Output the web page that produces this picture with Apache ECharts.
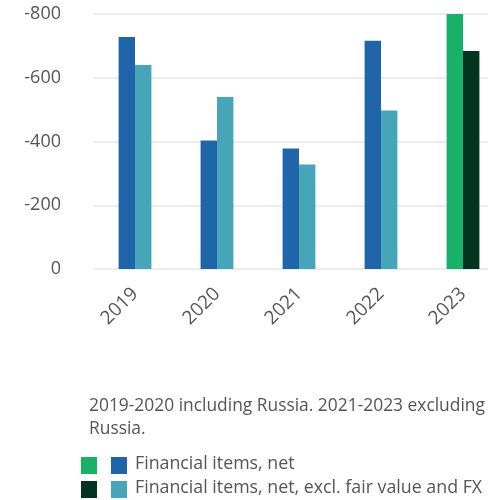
<!DOCTYPE html>
<html>
<head>
<meta charset="utf-8">
<script src="https://cdn.jsdelivr.net/npm/echarts@6/dist/echarts.min.js"></script>
<style>
  html, body { margin: 0; padding: 0; background: #fff; }
  #chart { width: 488px; height: 500px; }
</style>
</head>
<body>
<div id="chart"></div>
<script>
// Financial items, MSEK (shown as negatives on an inverted axis)
const years = ['2019', '2020', '2021', '2022', '2023'];
const financialNet = [-728, -403, -378, -716, -800];
const financialNetExcl = [-640, -540, -328, -497, -684];
const yTicks = [0, -200, -400, -600, -800];

const note = '2019-2020 including Russia. 2021-2023 excluding\nRussia.';
const legendNames = ['Financial items, net', 'Financial items, net, excl. fair value and FX'];

// Highlight colours for the latest year, regular colours for earlier years
const colNet = '#2064a9', colNetLatest = '#19b068';
const colExcl = '#46a5b9', colExclLatest = '#03341f';
const fontFamily = '"Open Sans", Lato, sans-serif';
const textColor = '#555555';

function withLatest(values, base, latest) {
  return values.map((v, i) => ({
    value: v,
    itemStyle: { color: i === values.length - 1 ? latest : base }
  }));
}

const chart = echarts.init(document.getElementById('chart'), null, { renderer: 'canvas' });

chart.setOption({
  animation: false,
  textStyle: { fontFamily: fontFamily },
  grid: {
    left: 94, width: 410, top: 14, height: 255,
    containLabel: false,
    outerBoundsMode: 'none'
  },
  xAxis: {
    type: 'category',
    data: years,
    axisLine: { show: false },
    axisTick: { show: false },
    axisLabel: {
      rotate: 45,
      margin: 22,
      fontSize: 19,
      color: textColor,
      fontFamily: fontFamily
    }
  },
  yAxis: {
    type: 'value',
    inverse: true,
    min: yTicks[yTicks.length - 1],
    max: yTicks[0],
    interval: 200,
    axisLine: { show: false },
    axisTick: { show: false },
    splitLine: { lineStyle: { color: '#e6e6e6', width: 1.5 } },
    axisLabel: {
      margin: 33,
      fontSize: 18,
      color: textColor,
      fontFamily: fontFamily
    }
  },
  series: [
    {
      name: legendNames[0],
      type: 'bar',
      barWidth: '20%',
      barGap: '0%',
      data: withLatest(financialNet, colNet, colNetLatest)
    },
    {
      name: legendNames[1],
      type: 'bar',
      barWidth: '20%',
      barGap: '0%',
      data: withLatest(financialNetExcl, colExcl, colExclLatest)
    }
  ],
  graphic: [
    {
      type: 'text',
      left: 89, top: 395,
      style: { text: note, font: '17.4px ' + fontFamily, fill: textColor, lineHeight: 23 }
    },
    { type: 'rect', shape: { x: 81, y: 457, width: 16, height: 17 }, style: { fill: colNetLatest } },
    { type: 'rect', shape: { x: 111, y: 457, width: 16, height: 17 }, style: { fill: colNet } },
    {
      type: 'text', left: 135, top: 455,
      style: { text: legendNames[0], font: '17.8px ' + fontFamily, fill: textColor }
    },
    { type: 'rect', shape: { x: 81, y: 481, width: 16, height: 17 }, style: { fill: colExclLatest } },
    { type: 'rect', shape: { x: 111, y: 481, width: 16, height: 17 }, style: { fill: colExcl } },
    {
      type: 'text', left: 135, top: 479,
      style: { text: legendNames[1], font: '17.8px ' + fontFamily, fill: textColor }
    }
  ]
});
</script>
</body>
</html>
